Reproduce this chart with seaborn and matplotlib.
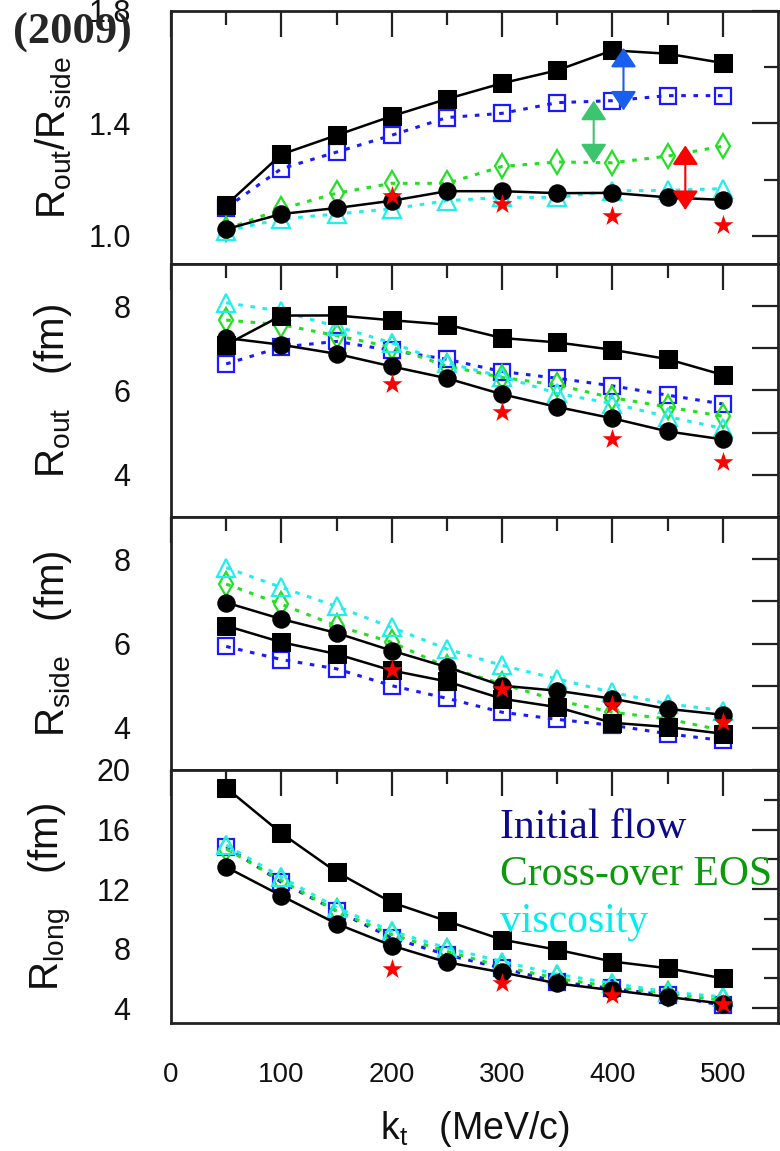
import matplotlib
matplotlib.use("Agg")
import matplotlib.pyplot as plt
import seaborn as sns
from matplotlib.ticker import FixedLocator, NullFormatter

# pair momentum (MeV/c)
kt = [50, 100, 150, 200, 250, 300, 350, 400, 450, 500]
kt_star = [200, 300, 400, 500]

# R_out / R_side
ratio_black_sq = [1.11, 1.29, 1.358, 1.426, 1.487, 1.543, 1.589, 1.66, 1.648, 1.615]
ratio_black_ci = [1.024, 1.078, 1.099, 1.125, 1.159, 1.159, 1.152, 1.153, 1.137, 1.128]
ratio_blue = [1.10, 1.239, 1.298, 1.358, 1.421, 1.436, 1.474, 1.481, 1.499, 1.499]
ratio_green = [1.024, 1.096, 1.152, 1.187, 1.187, 1.247, 1.263, 1.26, 1.284, 1.319]
ratio_cyan = [1.018, 1.06, 1.078, 1.096, 1.125, 1.137, 1.137, 1.16, 1.162, 1.168]
ratio_star = [1.143, 1.113, 1.072, 1.039]

# R_out (fm)
rout_black_sq = [7.085, 7.777, 7.78, 7.666, 7.563, 7.245, 7.14, 6.966, 6.744, 6.37]
rout_black_ci = [7.245, 7.085, 6.87, 6.57, 6.29, 5.91, 5.61, 5.34, 5.03, 4.84]
rout_blue = [6.63, 7.03, 7.165, 6.95, 6.74, 6.45, 6.29, 6.11, 5.89, 5.68]
rout_green = [7.67, 7.56, 7.3, 7.03, 6.58, 6.31, 6.13, 5.83, 5.61, 5.39]
rout_cyan = [8.08, 7.88, 7.52, 7.13, 6.65, 6.33, 5.93, 5.69, 5.38, 5.1]
rout_star = [6.15, 5.5, 4.86, 4.30]

# R_side (fm)
rside_black_sq = [6.42, 6.03, 5.75, 5.36, 5.1, 4.69, 4.49, 4.12, 4.02, 3.86]
rside_black_ci = [6.97, 6.58, 6.25, 5.83, 5.44, 5.0, 4.88, 4.69, 4.45, 4.31]
rside_blue = [5.93, 5.62, 5.4, 5.0, 4.70, 4.37, 4.2, 4.06, 3.86, 3.70]
rside_green = [7.41, 6.93, 6.42, 6.03, 5.44, 5.04, 4.65, 4.37, 4.21, 3.94]
rside_cyan = [7.80, 7.33, 6.88, 6.38, 5.87, 5.48, 5.16, 4.84, 4.57, 4.41]
rside_star = [5.38, 4.91, 4.53, 4.13]

# R_long (fm)
rlong_black_sq = [18.8, 15.75, 13.14, 11.1, 9.85, 8.6, 7.92, 7.13, 6.68, 6.0]
rlong_black_ci = [13.48, 11.55, 9.67, 8.2, 7.08, 6.4, 5.66, 5.2, 4.75, 4.3]
rlong_blue = [14.84, 12.46, 10.53, 8.72, 7.58, 6.68, 5.77, 5.32, 4.86, 4.18]
rlong_green = [14.7, 12.57, 10.53, 8.94, 7.81, 6.79, 6.0, 5.43, 4.98, 4.52]
rlong_cyan = [14.95, 12.8, 10.76, 9.17, 8.04, 7.13, 6.27, 5.66, 5.09, 4.75]
rlong_star = [6.63, 5.66, 4.91, 4.29]

# double arrows in the top panel: x, low end, high end
arrow_x = [410, 383, 466]
arrow_lo = [1.446, 1.258, 1.092]
arrow_hi = [1.669, 1.481, 1.322]
arrow_colors = ["#1a5ef0", "#3cc46e", "#ff0000"]

BLUE = "#1a1aff"
GREEN = "#22e022"
CYAN = "#22eeee"
DOT = (0, (1.5, 2.5))

sns.set_style("white")
plt.rcParams["font.family"] = ["Liberation Sans", "DejaVu Sans"]
plt.rcParams["mathtext.fontset"] = "custom"
plt.rcParams["mathtext.rm"] = "Liberation Sans"

fig, axes = plt.subplots(4, 1, sharex=True, figsize=(7.8, 11.51), dpi=100)
fig.subplots_adjust(left=171 / 780, right=778 / 780, top=1 - 11 / 1151,
                    bottom=1 - 1023 / 1151, hspace=0)


def draw_panel(ax, black_sq, black_ci, blue, green, cyan, star):
    sns.lineplot(x=kt, y=blue, ax=ax, color=BLUE, lw=2.2, linestyle=DOT,
                 marker="s", ms=11.5, mfc="none", mec=BLUE, mew=1.6, zorder=3)
    sns.lineplot(x=kt, y=green, ax=ax, color=GREEN, lw=2.2, linestyle=DOT,
                 marker="d", ms=12.5, mfc="none", mec=GREEN, mew=1.6, zorder=3)
    sns.lineplot(x=kt, y=cyan, ax=ax, color=CYAN, lw=2.2, linestyle=DOT,
                 marker="^", ms=13, mfc="none", mec=CYAN, mew=1.6, zorder=3)
    sns.lineplot(x=kt, y=black_sq, ax=ax, color="black", lw=1.8,
                 marker="s", ms=12.5, mec="black", zorder=4)
    sns.lineplot(x=kt, y=black_ci, ax=ax, color="black", lw=1.8,
                 marker="o", ms=12.5, mec="black", zorder=4)
    sns.scatterplot(x=kt_star, y=star, ax=ax, marker="*", s=230,
                    color="red", edgecolor="red", linewidth=0, zorder=5)


draw_panel(axes[0], ratio_black_sq, ratio_black_ci, ratio_blue, ratio_green, ratio_cyan, ratio_star)
draw_panel(axes[1], rout_black_sq, rout_black_ci, rout_blue, rout_green, rout_cyan, rout_star)
draw_panel(axes[2], rside_black_sq, rside_black_ci, rside_blue, rside_green, rside_cyan, rside_star)
draw_panel(axes[3], rlong_black_sq, rlong_black_ci, rlong_blue, rlong_green, rlong_cyan, rlong_star)

for x, lo, hi, c in zip(arrow_x, arrow_lo, arrow_hi, arrow_colors):
    axes[0].annotate("", xy=(x, hi), xytext=(x, lo),
                     arrowprops=dict(arrowstyle="<|-|>,head_length=0.6,head_width=0.4",
                                     mutation_scale=20, color=c, lw=1.5,
                                     shrinkA=0, shrinkB=0),
                     zorder=6)

ylims = [(0.9, 1.8), (3, 9), (3, 9), (3, 20)]
ymajor = [[1.0, 1.4, 1.8], [4, 6, 8], [4, 6, 8], [4, 8, 12, 16, 20]]
yminor = [[1.2, 1.6], [5, 7], [5, 7], [6, 10, 14, 18]]
yminor_len = [10, 19, 19, 10]
ylabels = [r"R$_{\rm out}$/R$_{\rm side}$", r"R$_{\rm out}$   (fm)",
           r"R$_{\rm side}$   (fm)", r"R$_{\rm long}$   (fm)"]

for i, ax in enumerate(axes):
    ax.set_xlim(0, 550)
    ax.set_ylim(*ylims[i])
    ax.xaxis.set_major_locator(FixedLocator([0, 100, 200, 300, 400, 500]))
    ax.xaxis.set_minor_locator(FixedLocator([50, 150, 250, 350, 450]))
    ax.yaxis.set_major_locator(FixedLocator(ymajor[i]))
    ax.yaxis.set_minor_locator(FixedLocator(yminor[i]))
    ax.yaxis.set_minor_formatter(NullFormatter())
    ax.tick_params(which="both", direction="in", top=True, right=True,
                   width=1.6, color="#222222", labelcolor="#111111")
    ax.tick_params(which="major", length=19)
    ax.tick_params(which="minor", length=10)
    ax.tick_params(axis="y", which="minor", length=yminor_len[i])
    ax.tick_params(axis="y", which="major", labelsize=22, pad=29)
    ax.tick_params(axis="x", which="major", labelsize=20, pad=28)
    for s in ax.spines.values():
        s.set_linewidth(2.0)
        s.set_color("#222222")
    ax.set_xlabel("")
    ax.set_ylabel(ylabels[i], fontsize=29, color="#111111")
    ax.yaxis.set_label_coords(-0.16, 0.5)

for ax in axes[:3]:
    ax.tick_params(axis="x", labelbottom=False)

axes[0].yaxis.set_major_formatter(matplotlib.ticker.FormatStrFormatter("%.1f"))

axes[3].set_xlabel(r"k$_{\rm t}$   (MeV/c)", fontsize=27, color="#111111")
axes[3].xaxis.set_label_coords(0.5, -0.34)

fig.text(72 / 780, 1 - 33 / 1151, "(2009)", family="Liberation Serif",
         fontweight="bold", fontsize=32, ha="center", va="center")

legend_text = ["Initial flow", "Cross-over EOS", "viscosity"]
legend_colors = ["#0a0a8a", "#0a9a0a", "#00eeee"]
legend_y = [838, 885, 932]
for t, c, y in zip(legend_text, legend_colors, legend_y):
    fig.text(500 / 780, 1 - y / 1151, t, family="Liberation Serif",
             fontsize=30, color=c, ha="left", va="baseline")

fig.savefig("out.png", dpi=100)
